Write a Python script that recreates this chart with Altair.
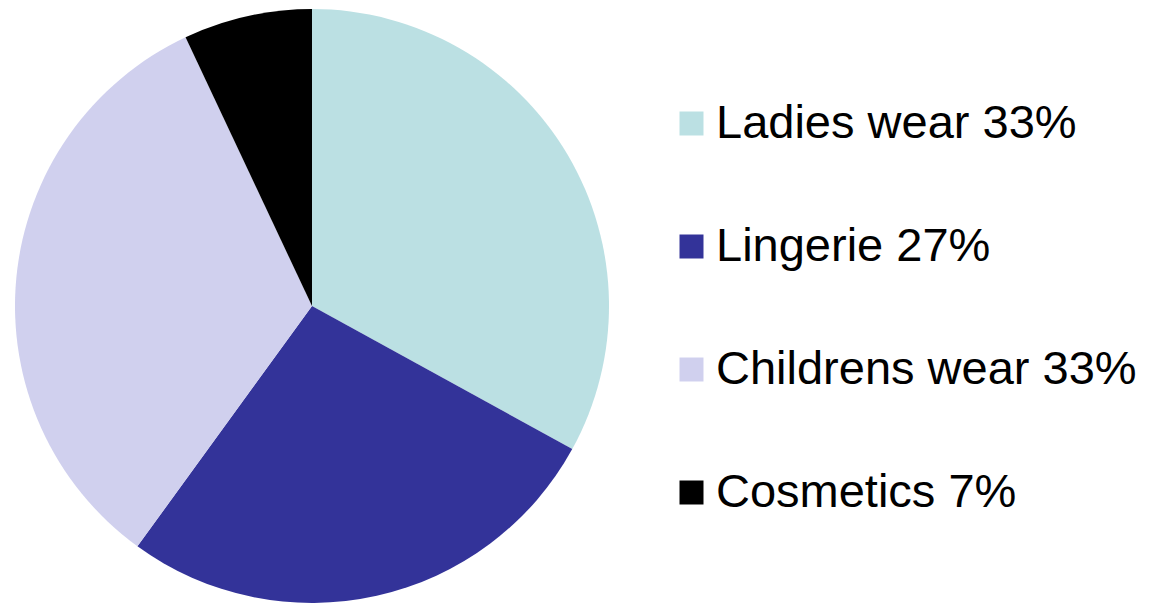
import altair as alt
import pandas as pd

categories = ["Ladies wear", "Lingerie", "Childrens wear", "Cosmetics"]
values = [33, 27, 33, 7]
colors = ["#BBE0E3", "#333399", "#D0D0EE", "#000000"]

labels = [f"{c} {v}%" for c, v in zip(categories, values)]
df = pd.DataFrame({"label": labels, "value": values, "order": list(range(len(values)))})

chart = alt.Chart(df).mark_arc(stroke=None).encode(
    theta=alt.Theta("value:Q", stack=True),
    order=alt.Order("order:Q"),
    color=alt.Color(
        "label:N",
        sort=labels,
        scale=alt.Scale(domain=labels, range=colors),
        legend=alt.Legend(
            title=None,
            orient="none",
            legendX=668,
            legendY=100,
            symbolType="square",
            symbolSize=576,
            symbolStrokeWidth=0,
            labelFont="Liberation Sans",
            labelFontSize=47,
            labelColor="#000000",
            labelOffset=1,
            rowPadding=75,
            labelLimit=600,
        ),
    ),
    x=alt.value(312),
    y=alt.value(306),
    radius=alt.value(297),
).properties(
    width=1151,
    height=603,
    autosize=alt.AutoSizeParams(type="none"),
    padding=0,
).configure_view(stroke=None)

chart.save("out.html", embed_options={"renderer": "svg", "actions": False})
